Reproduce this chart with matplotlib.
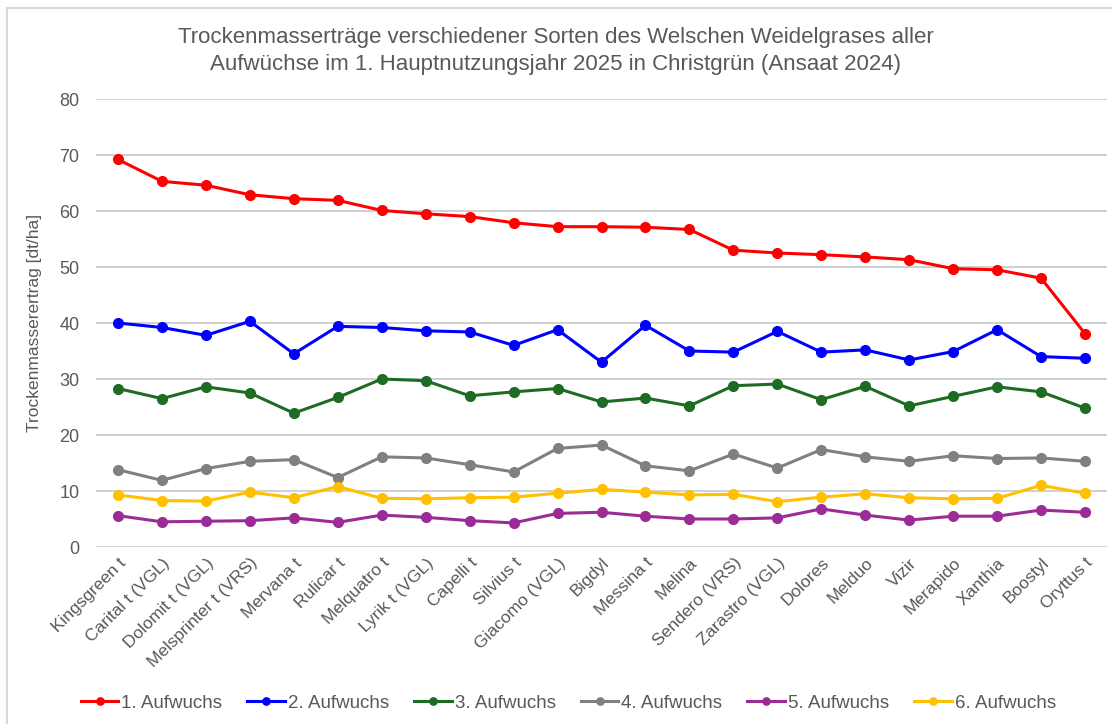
import numpy as np
import matplotlib
matplotlib.use("Agg")
import matplotlib.pyplot as plt
from matplotlib.patches import Rectangle

sorten = ["Kingsgreen t", "Carital t (VGL)", "Dolomit t (VGL)", "Melsprinter t (VRS)",
          "Mervana t", "Rulicar t", "Melquatro t", "Lyrik t (VGL)", "Capelli t",
          "Silvius t", "Giacomo (VGL)", "Bigdyl", "Messina t", "Melina",
          "Sendero (VRS)", "Zarastro (VGL)", "Dolores", "Melduo", "Vizir",
          "Merapido", "Xanthia", "Boostyl", "Oryttus t"]

aufwuchs1 = [69.2, 65.3, 64.6, 62.9, 62.2, 61.9, 60.1, 59.5, 59.0, 57.9, 57.2, 57.2,
             57.1, 56.7, 53.0, 52.5, 52.2, 51.8, 51.3, 49.7, 49.5, 48.0, 38.1]
aufwuchs2 = [40.0, 39.2, 37.8, 40.3, 34.5, 39.4, 39.2, 38.6, 38.4, 36.0, 38.8, 33.0,
             39.6, 35.0, 34.8, 38.5, 34.8, 35.2, 33.4, 34.9, 38.8, 34.0, 33.7]
aufwuchs3 = [28.3, 26.5, 28.6, 27.5, 23.9, 26.7, 30.0, 29.7, 27.0, 27.7, 28.3, 25.9,
             26.6, 25.2, 28.8, 29.1, 26.3, 28.7, 25.2, 26.9, 28.6, 27.7, 24.8]
aufwuchs4 = [13.8, 11.9, 14.0, 15.3, 15.6, 12.4, 16.1, 15.9, 14.7, 13.4, 17.6, 18.2,
             14.5, 13.6, 16.6, 14.1, 17.4, 16.1, 15.3, 16.3, 15.8, 15.9, 15.3]
aufwuchs5 = [5.6, 4.5, 4.6, 4.7, 5.2, 4.4, 5.7, 5.3, 4.7, 4.3, 6.0, 6.2,
             5.5, 5.0, 5.0, 5.2, 6.8, 5.7, 4.8, 5.5, 5.5, 6.6, 6.2]
aufwuchs6 = [9.3, 8.3, 8.2, 9.8, 8.8, 10.8, 8.7, 8.6, 8.8, 8.9, 9.6, 10.3,
             9.8, 9.3, 9.4, 8.1, 8.9, 9.5, 8.8, 8.6, 8.7, 11.0, 9.6]

serien = [
    ("1. Aufwuchs", aufwuchs1, "#ff0000"),
    ("2. Aufwuchs", aufwuchs2, "#0000ff"),
    ("3. Aufwuchs", aufwuchs3, "#1e6b23"),
    ("4. Aufwuchs", aufwuchs4, "#808080"),
    ("5. Aufwuchs", aufwuchs5, "#9b2c96"),
    ("6. Aufwuchs", aufwuchs6, "#ffc000"),
]

plt.rcParams['font.family'] = ['Liberation Sans', 'DejaVu Sans']
textfarbe = "#595959"

fig = plt.figure(figsize=(11.12, 7.24), dpi=100)
ax = fig.add_axes([96/1112, 177/724, 1011/1112, 448/724])

# chart frame (only left and top edge visible in the crop)
W, H = 1112, 724
fig.patches.append(Rectangle((6.5/W, -0.1), 1.2, 1 - 7.5/H + 0.1, transform=fig.transFigure,
                             fill=False, edgecolor='#d9d9d9', lw=1.5, zorder=0))

x = np.arange(len(sorten))
for name, werte, farbe in serien:
    ax.plot(x, werte, color=farbe, lw=2.2, marker='o', markersize=7, label=name)

ax.set_xlim(-0.5, len(sorten) - 0.5)
ax.set_ylim(0, 80)
ax.set_yticks(range(0, 81, 10))
ax.grid(axis='y', color='#d0d0d0', lw=1.4)
ax.set_axisbelow(True)
for s in ax.spines.values():
    s.set_visible(False)
ax.tick_params(axis='both', length=0, colors=textfarbe, labelsize=13)
ax.tick_params(axis='y', pad=12)
ax.set_xticks(x)
ax.set_xticklabels(sorten, rotation=45, ha='right', rotation_mode='anchor', fontsize=12.5)
ax.tick_params(axis='x', pad=6)

ax.set_ylabel("Trockenmasserertrag [dt/ha]", color=textfarbe, fontsize=12.5, labelpad=12)

fig.text(0.5, 1 - 51/724, "Trockenmasserträge verschiedener Sorten des Welschen Weidelgrases aller\n"
         "Aufwüchse im 1. Hauptnutzungsjahr 2025 in Christgrün (Ansaat 2024)",
         ha='center', va='center', fontsize=16, color=textfarbe, linespacing=1.4)

fig.legend(loc='center', bbox_to_anchor=(0.511, 1 - 703/724), ncol=6, frameon=False,
           fontsize=13.5, labelcolor=textfarbe, handlelength=2.0, columnspacing=1.35,
           handletextpad=0.15, markerscale=0.75)

fig.savefig("out.png", dpi=100)
